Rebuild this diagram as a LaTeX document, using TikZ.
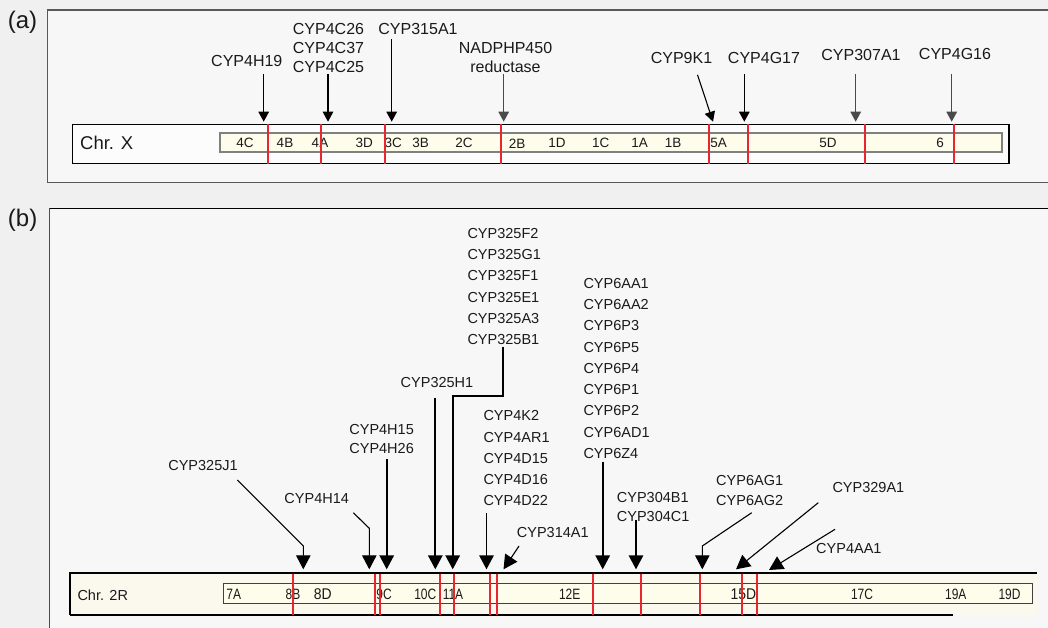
\documentclass[tikz,border=0pt]{standalone}
\usepackage{fontspec}
\setmainfont{Liberation Sans}
\usetikzlibrary{arrows.meta}
\definecolor{bgc}{HTML}{F0F0F0}
\definecolor{panelc}{HTML}{F7F7F7}
\definecolor{creamc}{HTML}{FEFCEA}
\definecolor{cream2}{HTML}{FBF9EE}
\definecolor{redc}{HTML}{E8262F}
\definecolor{txtc}{HTML}{1A1A1A}
\definecolor{grayarr}{HTML}{4A4A4A}
\newcommand{\cnd}[1]{\scalebox{0.8}[1]{#1}}
\newcommand{\cnb}[1]{\scalebox{0.9}[1]{#1}}
\begin{document}
\begin{tikzpicture}[x=1pt,y=-1pt,
  lab/.style={font=\fontsize{16}{19}\selectfont, inner sep=0pt, align=center, text=txtc},
  blab/.style={font=\fontsize{14.5}{21.25}\selectfont, inner sep=0pt, align=left, text=txtc},
  blabtwo/.style={font=\fontsize{14.5}{19.3}\selectfont, inner sep=0pt, align=left, text=txtc},
  blabc/.style={font=\fontsize{14.5}{19}\selectfont, inner sep=0pt, align=center, text=txtc},
  bandA/.style={font=\fontsize{13.5}{14}\selectfont, inner sep=0pt, text=txtc},
  bandB/.style={font=\fontsize{15}{15}\selectfont, inner sep=0pt, text=txtc},
  panellab/.style={font=\fontsize{24}{26}\selectfont, inner sep=0pt, text=txtc},
  chrlab/.style={inner sep=0pt, text=txtc, anchor=west},
  arra/.style={-{Triangle[width=10.5pt,length=10pt]}, line width=1.3pt, draw=black},
  arragray/.style={arra, draw=grayarr},
  arrb/.style={-{Triangle[width=14.5pt,length=14pt]}, line width=1.7pt, draw=black},
  arrbthin/.style={arrb, line width=1.1pt},
  redln/.style={draw=redc, line width=1.8pt},
]
\useasboundingbox (0,0) rectangle (1048,628);
\fill[bgc] (0,0) rectangle (1048,628);

% ---------------- panel (a) ----------------
\fill[panelc] (47.7,10) rectangle (1048,182.3);
\draw[draw=black!65, line width=1.4pt] (1048,10) -- (47.7,10) -- (47.7,182.3) -- (1048,182.3);
\node[panellab] (pa) at (22.5,22.5) {(a)};

\draw[fill=white!60!panelc, draw=black, line width=1.2pt] (72.3,124.3) rectangle (1009,163.7);
\draw[fill=creamc, draw=black!50, line width=2pt] (220.3,133.3) rectangle (1001.7,151.7);
\node[chrlab, font=\fontsize{18.5}{20}\selectfont] (chrx) at (80,143) {Chr. X};

\foreach \x/\t in {245/4C,285/4B,320/4A,364.3/3D,393.3/3C,420.7/3B,464/2C,517/2B,557/1D,600.8/1C,639.5/1A,673.2/1B,718.7/5A,828/5D,940/6}
  \node[bandA] (ba-\t) at (\x,143.3) {\t};

\foreach \x in {267.7,320.7,385,501,708.9,748,865,953.7}
  \draw[redln] (\x,124.3) -- (\x,163.7);

% labels (a)
\node[lab] (g4h19) at (246.8,61) {CYP4H19};
\node[lab, anchor=north] (g4c) at (328.5,23.6) {CYP4C26\\CYP4C37\\CYP4C25};
\node[lab] (g315) at (418,29.3) {CYP315A1};
\node[lab, anchor=north] (gnadph) at (505.5,42) {NADPHP450\\reductase};
\node[lab] (g9k1) at (681.5,58) {CYP9K1};
\node[lab] (g4g17) at (764,58) {CYP4G17};
\node[lab] (g307) at (861,54.9) {CYP307A1};
\node[lab] (g4g16) at (955,54.3) {CYP4G16};

% arrows (a)
\coordinate (a1s) at (263.7,74);   \coordinate (a1t) at (263.7,121.7);
\coordinate (a2s) at (328,74);     \coordinate (a2t) at (328,121.7);
\coordinate (a3s) at (391.7,39.3); \coordinate (a3t) at (391.7,121.7);
\coordinate (a4s) at (503.7,74);   \coordinate (a4t) at (503.7,121.7);
\coordinate (a5s) at (697.5,74.8); \coordinate (a5t) at (713,121.7);
\coordinate (a6s) at (744.3,74);   \coordinate (a6t) at (744.3,121.7);
\coordinate (a7s) at (855.7,74);   \coordinate (a7t) at (855.7,121.7);
\coordinate (a8s) at (951.7,74);   \coordinate (a8t) at (951.7,121.7);
\draw[arra] (a1s) -- (a1t);
\draw[arra] (a2s) -- (a2t);
\draw[arra] (a3s) -- (a3t);
\draw[arragray] (a4s) -- (a4t);
\draw[arra, line width=1.1pt] (a5s) -- (a5t);
\draw[arra] (a6s) -- (a6t);
\draw[arragray] (a7s) -- (a7t);
\draw[arragray] (a8s) -- (a8t);

% ---------------- panel (b) ----------------
\fill[panelc] (49.5,208.5) rectangle (1048,628);
\draw[draw=black!70, line width=1.4pt] (49.5,628) -- (49.5,208.5);
\draw[draw=black, line width=1.8pt] (49.5,208.5) -- (1048,208.5);
\node[panellab] (pb) at (22.6,220) {(b)};

\fill[cream2] (70,572.3) rectangle (1037,615);
\draw[black, line width=2.2pt] (70,572.8) -- (1037,572.8);
\draw[black, line width=1.2pt] (70,572.3) -- (70,615);
\draw[black, line width=1.3pt] (70,615) -- (953,615);
\draw[fill=creamc, draw=black!75, line width=1.5pt] (223.3,583.3) rectangle (1032.7,603.5);
\node[chrlab, font=\fontsize{14.5}{16}\selectfont] (chr2r) at (77.3,595) {Chr. 2R};

\foreach \x/\t in {233.7/7A,293/8B,384/9C,425.3/10C,453/11A,569.7/12E,862/17C,955.8/19A,1009.5/19D}
  \node[bandB] (bb-\t) at (\x,594.2) {\cnd{\t}};
\node[bandB, font=\fontsize{15.5}{16}\selectfont] (bb-8D) at (322.8,594.2) {\cnb{8D}};
\node[bandB, font=\fontsize{15.5}{16}\selectfont] (bb-15D) at (743.3,594.2) {\cnb{15D}};

\foreach \x in {293.3,375,380,440,454,490,496.7,593.3,640.7,700.3,741.7,756.7}
  \draw[redln] (\x,573.8) -- (\x,615);

% labels (b)
\node[blab] (j1) at (203,466) {CYP325J1};
\node[blab] (h14) at (316.7,499) {CYP4H14};
\node[blabc, anchor=north] (h15) at (381.6,424.1) {CYP4H15\\CYP4H26};
\node[blab] (h1) at (437,383) {CYP325H1};
\node[blab, anchor=north west] (f2) at (467.3,228.1) {CYP325F2\\CYP325G1\\CYP325F1\\CYP325E1\\CYP325A3\\CYP325B1};
\node[blab, anchor=north west] (k2) at (483.3,410.5) {CYP4K2\\CYP4AR1\\CYP4D15\\CYP4D16\\CYP4D22};
\node[blab, anchor=west] (g314) at (516.7,532.7) {CYP314A1};
\node[blab, anchor=north west] (g6) at (583.3,278.1) {CYP6AA1\\CYP6AA2\\CYP6P3\\CYP6P5\\CYP6P4\\CYP6P1\\CYP6P2\\CYP6AD1\\CYP6Z4};
\node[blabtwo, anchor=north west] (g304) at (616.7,492.1) {CYP304B1\\CYP304C1};
\node[blabtwo, anchor=north west] (gag) at (716,475.5) {CYP6AG1\\CYP6AG2};
\node[blab, anchor=west] (g329) at (832.3,487.7) {CYP329A1};
\node[blab, anchor=west] (g4aa1) at (816,548.3) {CYP4AA1};

% arrows (b)
\coordinate (b1s) at (237.3,480);  \coordinate (b1k) at (303.3,546);  \coordinate (b1t) at (303.3,569.3);
\coordinate (b2s) at (353.3,512.7); \coordinate (b2k) at (369.3,528.3); \coordinate (b2t) at (369.3,569.3);
\coordinate (b3s) at (386.7,459.3); \coordinate (b3t) at (386.7,569.3);
\coordinate (b4s) at (435.3,398);   \coordinate (b4t) at (435.3,569.3);
\coordinate (b5s) at (503.3,346.7); \coordinate (b5k) at (503.3,396); \coordinate (b5l) at (452.7,396); \coordinate (b5t) at (452.7,569.3);
\coordinate (b6s) at (486.5,513.3); \coordinate (b6t) at (486.5,569.3);
\coordinate (b7s) at (519,546);     \coordinate (b7t) at (503.5,569.3);
\coordinate (b8s) at (602.7,461.7); \coordinate (b8t) at (602.7,569.3);
\coordinate (b9s) at (636,520);     \coordinate (b9t) at (636,569.3);
\coordinate (b10s) at (751.7,512.7); \coordinate (b10k) at (702.3,546); \coordinate (b10t) at (702.3,569.3);
\coordinate (b11s) at (818.3,502.7); \coordinate (b11t) at (736,569.3);
\coordinate (b12s) at (835,529.3);   \coordinate (b12t) at (769,570);

\draw[arrbthin] (b1s) -- (b1k) -- (b1t);
\draw[arrbthin] (b2s) -- (b2k) -- (b2t);
\draw[arrb] (b3s) -- (b3t);
\draw[arrb] (b4s) -- (b4t);
\draw[arrb] (b5s) -- (b5k) -- (b5l) -- (b5t);
\draw[arrb] (b6s) -- (b6t);
\draw[arrbthin] (b7s) -- (b7t);
\draw[arrb] (b8s) -- (b8t);
\draw[arrb] (b9s) -- (b9t);
\draw[arrbthin] (b10s) -- (b10k) -- (b10t);
\draw[arrbthin] (b11s) -- (b11t);
\draw[arrbthin] (b12s) -- (b12t);
\end{tikzpicture}
\end{document}
